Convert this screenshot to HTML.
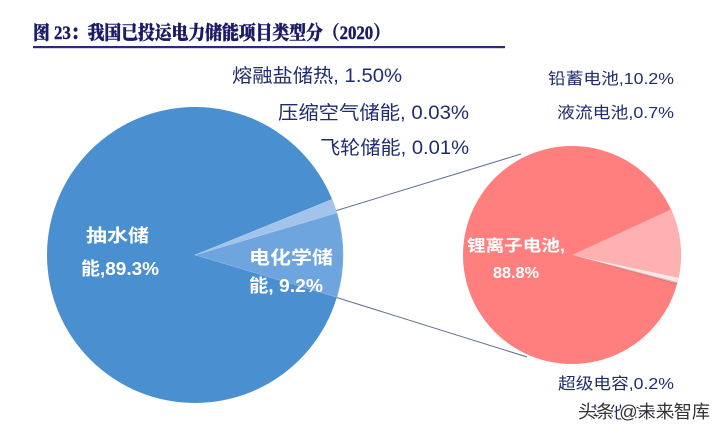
<!DOCTYPE html>
<html>
<head>
<meta charset="utf-8">
<style>
html,body{margin:0;padding:0;background:#fff;}
body{width:723px;height:433px;overflow:hidden;}
svg{display:block;}
</style>
</head>
<body>
<svg width="723" height="433" viewBox="0 0 723 433" xmlns="http://www.w3.org/2000/svg">
  <rect width="723" height="433" fill="#ffffff"/>
  <!-- Title -->
  <text x="33" y="39" font-family="'Liberation Serif','Noto Serif CJK SC',serif" font-weight="900" font-size="19" fill="#1a1a66" stroke="#1a1a66" stroke-width="0.4" textLength="357" lengthAdjust="spacingAndGlyphs">图 23：我国已投运电力储能项目类型分（2020）</text>
  <rect x="33" y="46" width="472" height="2.2" fill="#2b2b78"/>

  <!-- Connector lines -->
  <line x1="335" y1="211" x2="521" y2="154" stroke="#5f6f8f" stroke-width="1"/>
  <line x1="335" y1="297" x2="527" y2="357" stroke="#5f6f8f" stroke-width="1"/>

  <!-- Left pie -->
  <circle cx="195" cy="255" r="148" fill="#4a8fd0"/>
  <path d="M195,255 L336.9,212.8 A148,148 0 0 1 336.9,297.2 Z" fill="#6fa5de" stroke="#8fb8e6" stroke-width="0.6"/>
  <path d="M195,255 L332.1,199.3 A148,148 0 0 1 336.9,212.8 Z" fill="#a2c3ea" stroke="#b5d0ee" stroke-width="0.5"/>

  <!-- Right pie -->
  <circle cx="572" cy="255" r="109" fill="#ff7f7f"/>
  <path d="M572,255 L671.0,209.4 A109,109 0 0 1 678.6,277.7 Z" fill="#ffb0b0"/>
  <path d="M572,255 L678.6,277.7 A109,109 0 0 1 677.5,282.3 Z" fill="#ffe6e6"/>
  <path d="M572,255 L677.5,282.3 A109,109 0 0 1 677.2,283.6 Z" fill="#c9c2c2"/>
  <path d="M572,255 L677.2,283.6 A109,109 0 0 1 677.0,284.3 Z" fill="#e06060"/>

  <!-- Inside labels -->
  <g font-family="'Liberation Sans','Noto Sans CJK SC',sans-serif" font-weight="bold" fill="#ffffff">
    <text x="86" y="242" font-size="18" textLength="63" lengthAdjust="spacingAndGlyphs">抽水储</text>
    <text x="81" y="275" font-size="18" textLength="78" lengthAdjust="spacingAndGlyphs">能,89.3%</text>
    <text x="249" y="264" font-size="18" textLength="84" lengthAdjust="spacingAndGlyphs">电化学储</text>
    <text x="249" y="292" font-size="18" textLength="74" lengthAdjust="spacingAndGlyphs">能, 9.2%</text>
    <text x="467" y="251" font-size="16" textLength="98" lengthAdjust="spacingAndGlyphs">锂离子电池,</text>
    <text x="493" y="278" font-size="16" textLength="46" lengthAdjust="spacingAndGlyphs">88.8%</text>
  </g>

  <!-- Outside labels -->
  <g font-family="'Liberation Sans','Noto Sans CJK SC',sans-serif" fill="#1f2d6d">
    <text x="232" y="82" font-size="19" textLength="170" lengthAdjust="spacingAndGlyphs">熔融盐储热, 1.50%</text>
    <text x="278" y="119" font-size="19" textLength="191" lengthAdjust="spacingAndGlyphs">压缩空气储能, 0.03%</text>
    <text x="320" y="154" font-size="19" textLength="149" lengthAdjust="spacingAndGlyphs">飞轮储能, 0.01%</text>
    <text x="548" y="84" font-size="16" textLength="126" lengthAdjust="spacingAndGlyphs">铅蓄电池,10.2%</text>
    <text x="557" y="118" font-size="16" textLength="117" lengthAdjust="spacingAndGlyphs">液流电池,0.7%</text>
    <text x="558" y="389" font-size="16" textLength="116" lengthAdjust="spacingAndGlyphs">超级电容,0.2%</text>
    <text x="590" y="418" font-size="16" textLength="84" lengthAdjust="spacingAndGlyphs">其他,0.1%</text>
  </g>

  <!-- Watermark -->
  <text x="578" y="418" font-family="'Liberation Sans','Noto Sans CJK SC',sans-serif" font-size="18" fill="#333333" stroke="#ffffff" stroke-width="2.5" paint-order="stroke" textLength="132" lengthAdjust="spacingAndGlyphs">头条 @未来智库</text>
</svg>
</body>
</html>
